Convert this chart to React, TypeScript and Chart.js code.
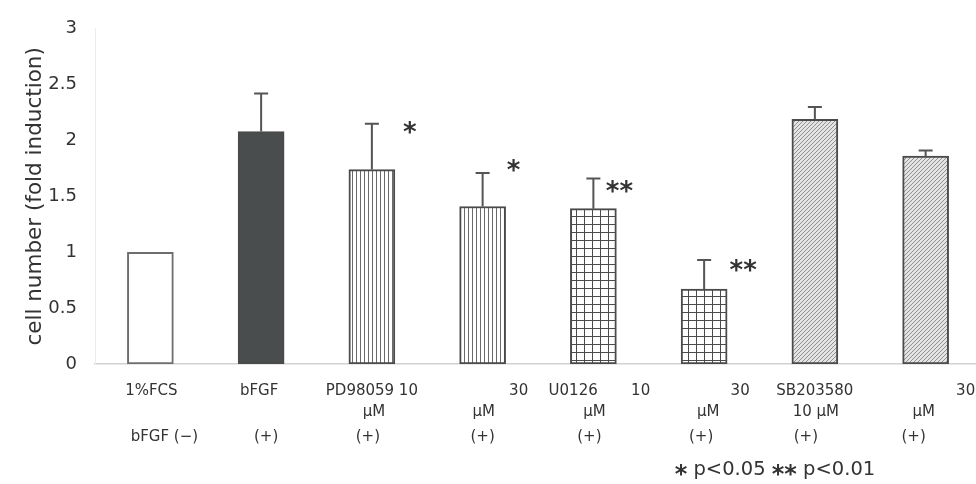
import React, { useEffect, useRef } from "react";
import { Chart, registerables } from "chart.js";

Chart.register(...registerables);

// ---------------- data ----------------
const categories = ["1%FCS", "bFGF", "PD98059 10", "30", "U0126       10", "30", "SB203580", "30"];
const unitLabels = ["", "", "μM", "μM", "μM", "μM", "10 μM", "μM"];
const bfgfLabels = ["bFGF (−)", "(+)", "(+)", "(+)", "(+)", "(+)", "(+)", "(+)"];
const foldValues = [1.0, 2.08, 1.74, 1.41, 1.39, 0.67, 2.19, 1.86];
const errorValues = [0, 0.34, 0.41, 0.3, 0.27, 0.26, 0.11, 0.05];
const significance = ["", "", "*", "*", "**", "**", "", ""];
const yTickValues = [0, 0.5, 1, 1.5, 2, 2.5, 3];
const yTitle = "cell number (fold induction)";
const footnote = "* p<0.05 ** p<0.01";

// ---------------- layout / style ----------------
const FONT = "'DejaVu Sans', 'Liberation Sans', sans-serif";
const TEXT = "#333";
const row1Shift = [1, -2, 0, 36, 6, 36, 0, 40];
const row2Shift = [0, 0, 2, 1, 1, 4, 1, -2];
const row3Shift = [14, 5, -4, 0, -4, -3, -9, -12];
const starDx = [0, 0, 38, 31, 26, 39, 0, 0];
const starDy = [0, 0, 2, -9, 6, 4, 0, 0];
const fillKinds = ["white", "dark", "vlines", "vlines", "grid", "grid", "diag", "diag"];

function makePattern(kind: string): CanvasPattern | string {
  if (kind === "white") return "#ffffff";
  if (kind === "dark") return "#4a4d4d";
  const c = document.createElement("canvas");
  const g = c.getContext("2d")!;
  if (kind === "vlines") {
    c.width = 4; c.height = 4;
    g.fillStyle = "#ffffff"; g.fillRect(0, 0, 4, 4);
    g.fillStyle = "#6a6a6a"; g.fillRect(0, 0, 1, 4);
  } else if (kind === "grid") {
    c.width = 8; c.height = 8;
    g.fillStyle = "#ffffff"; g.fillRect(0, 0, 8, 8);
    g.fillStyle = "#4a4a4a"; g.fillRect(0, 0, 1, 8); g.fillRect(0, 0, 8, 1);
  } else {
    c.width = 4; c.height = 4;
    g.fillStyle = "#e4e4e4"; g.fillRect(0, 0, 4, 4);
    g.strokeStyle = "#909090"; g.lineWidth = 1;
    g.beginPath();
    g.moveTo(-1, 5); g.lineTo(5, -1);
    g.moveTo(-1, 1); g.lineTo(1, -1);
    g.moveTo(3, 5); g.lineTo(5, 3);
    g.stroke();
  }
  return g.createPattern(c, "repeat")!;
}

const overlayPlugin = {
  id: "overlay",
  afterDatasetsDraw(chart: any) {
    const ctx = chart.ctx as CanvasRenderingContext2D;
    const xs = chart.scales.x, ys = chart.scales.y;
    ctx.save();
    // error bars
    ctx.strokeStyle = "#555";
    ctx.lineWidth = 2;
    foldValues.forEach((v, i) => {
      const e = errorValues[i];
      if (!e) return;
      const cx = xs.getPixelForValue(i);
      const y0 = ys.getPixelForValue(v);
      const y1 = ys.getPixelForValue(v + e);
      ctx.beginPath();
      ctx.moveTo(cx, y0); ctx.lineTo(cx, y1);
      ctx.moveTo(cx - 7, y1); ctx.lineTo(cx + 7, y1);
      ctx.stroke();
    });
    // significance stars
    ctx.fillStyle = "#333";
    ctx.font = `bold 26px ${FONT}`;
    ctx.textAlign = "center";
    ctx.textBaseline = "alphabetic";
    significance.forEach((s, i) => {
      if (!s) return;
      const cx = xs.getPixelForValue(i) + starDx[i];
      const yTop = ys.getPixelForValue(foldValues[i] + errorValues[i]) + starDy[i];
      ctx.fillText(s, cx, yTop + 15);
    });
    ctx.restore();
  },
  afterDraw(chart: any) {
    const ctx = chart.ctx as CanvasRenderingContext2D;
    const xs = chart.scales.x;
    const area = chart.chartArea;
    ctx.save();
    ctx.fillStyle = TEXT;
    ctx.textAlign = "center";
    ctx.textBaseline = "middle";
    ctx.font = `15px ${FONT}`;
    categories.forEach((t, i) => {
      const cx = xs.getPixelForValue(i);
      ctx.fillText(t, cx + row1Shift[i], 391);
      if (unitLabels[i]) ctx.fillText(unitLabels[i], cx + row2Shift[i], 412);
      ctx.fillText(bfgfLabels[i], cx + row3Shift[i], 437);
    });
    // y title
    ctx.save();
    ctx.font = `21.5px ${FONT}`;
    ctx.translate(35, (area.top + area.bottom) / 2);
    ctx.rotate(-Math.PI / 2);
    ctx.fillText(yTitle, 0, 0);
    ctx.restore();
    // footnote
    const parts = footnote.split(/(\*+)/).filter((p) => p.length);
    const fontFor = (p: string) => (/^\*+$/.test(p) ? `bold 24px ${FONT}` : `19.5px ${FONT}`);
    const widths = parts.map((p) => { ctx.font = fontFor(p); return ctx.measureText(p).width; });
    const total = widths.reduce((a, b) => a + b, 0);
    let x = 775 - total / 2;
    ctx.textAlign = "left";
    parts.forEach((p, k) => {
      const isStar = /^\*+$/.test(p);
      ctx.font = fontFor(p);
      if (isStar) {
        ctx.textBaseline = "alphabetic";
        ctx.fillText(p, x, 482);
      } else {
        ctx.textBaseline = "middle";
        ctx.fillText(p, x, 470);
      }
      x += widths[k];
    });
    ctx.restore();
  },
};

export default function App() {
  const ref = useRef<HTMLCanvasElement | null>(null);
  useEffect(() => {
    if (!ref.current) return;
    const fills = fillKinds.map(makePattern);
    const borders = fillKinds.map((k) => (k === "white" ? "#6e6e6e" : "#4a4a4a"));
    const chart = new Chart(ref.current, {
      type: "bar",
      data: {
        labels: categories,
        datasets: [
          {
            data: foldValues,
            backgroundColor: fills as any,
            borderColor: borders,
            borderWidth: 2,
            borderSkipped: false,
            barThickness: 46,
          },
        ],
      },
      options: {
        animation: false,
        responsive: false,
        devicePixelRatio: 1,
        layout: { padding: { top: 22, right: 0, left: 0, bottom: 0 } },
        plugins: { legend: { display: false }, tooltip: { enabled: false } },
        scales: {
          x: {
            grid: { display: false },
            border: { display: true, color: "#d2d2d2", width: 1.5 },
            ticks: { display: false },
            afterFit: (s: any) => { s.height = 120; },
          },
          y: {
            min: 0,
            max: 3,
            afterBuildTicks: (s: any) => { s.ticks = yTickValues.map((v) => ({ value: v })); },
            grid: { display: false, drawTicks: false },
            border: { display: true, color: "#ececec", width: 1 },
            ticks: {
              padding: 18,
              color: TEXT,
              font: { family: FONT, size: 18 },
              callback: (v: any) => String(v),
            },
            afterFit: (s: any) => { s.width = 95; },
          },
        },
      },
      plugins: [overlayPlugin],
    });
    return () => chart.destroy();
  }, []);
  return (
    <div style={{ position: "fixed", left: 0, top: 0, width: 976, height: 484, overflow: "hidden", background: "#fff" }}>
      <canvas ref={ref} width={981} height={484} style={{ display: "block", width: 981, height: 484 }} />
    </div>
  );
}
